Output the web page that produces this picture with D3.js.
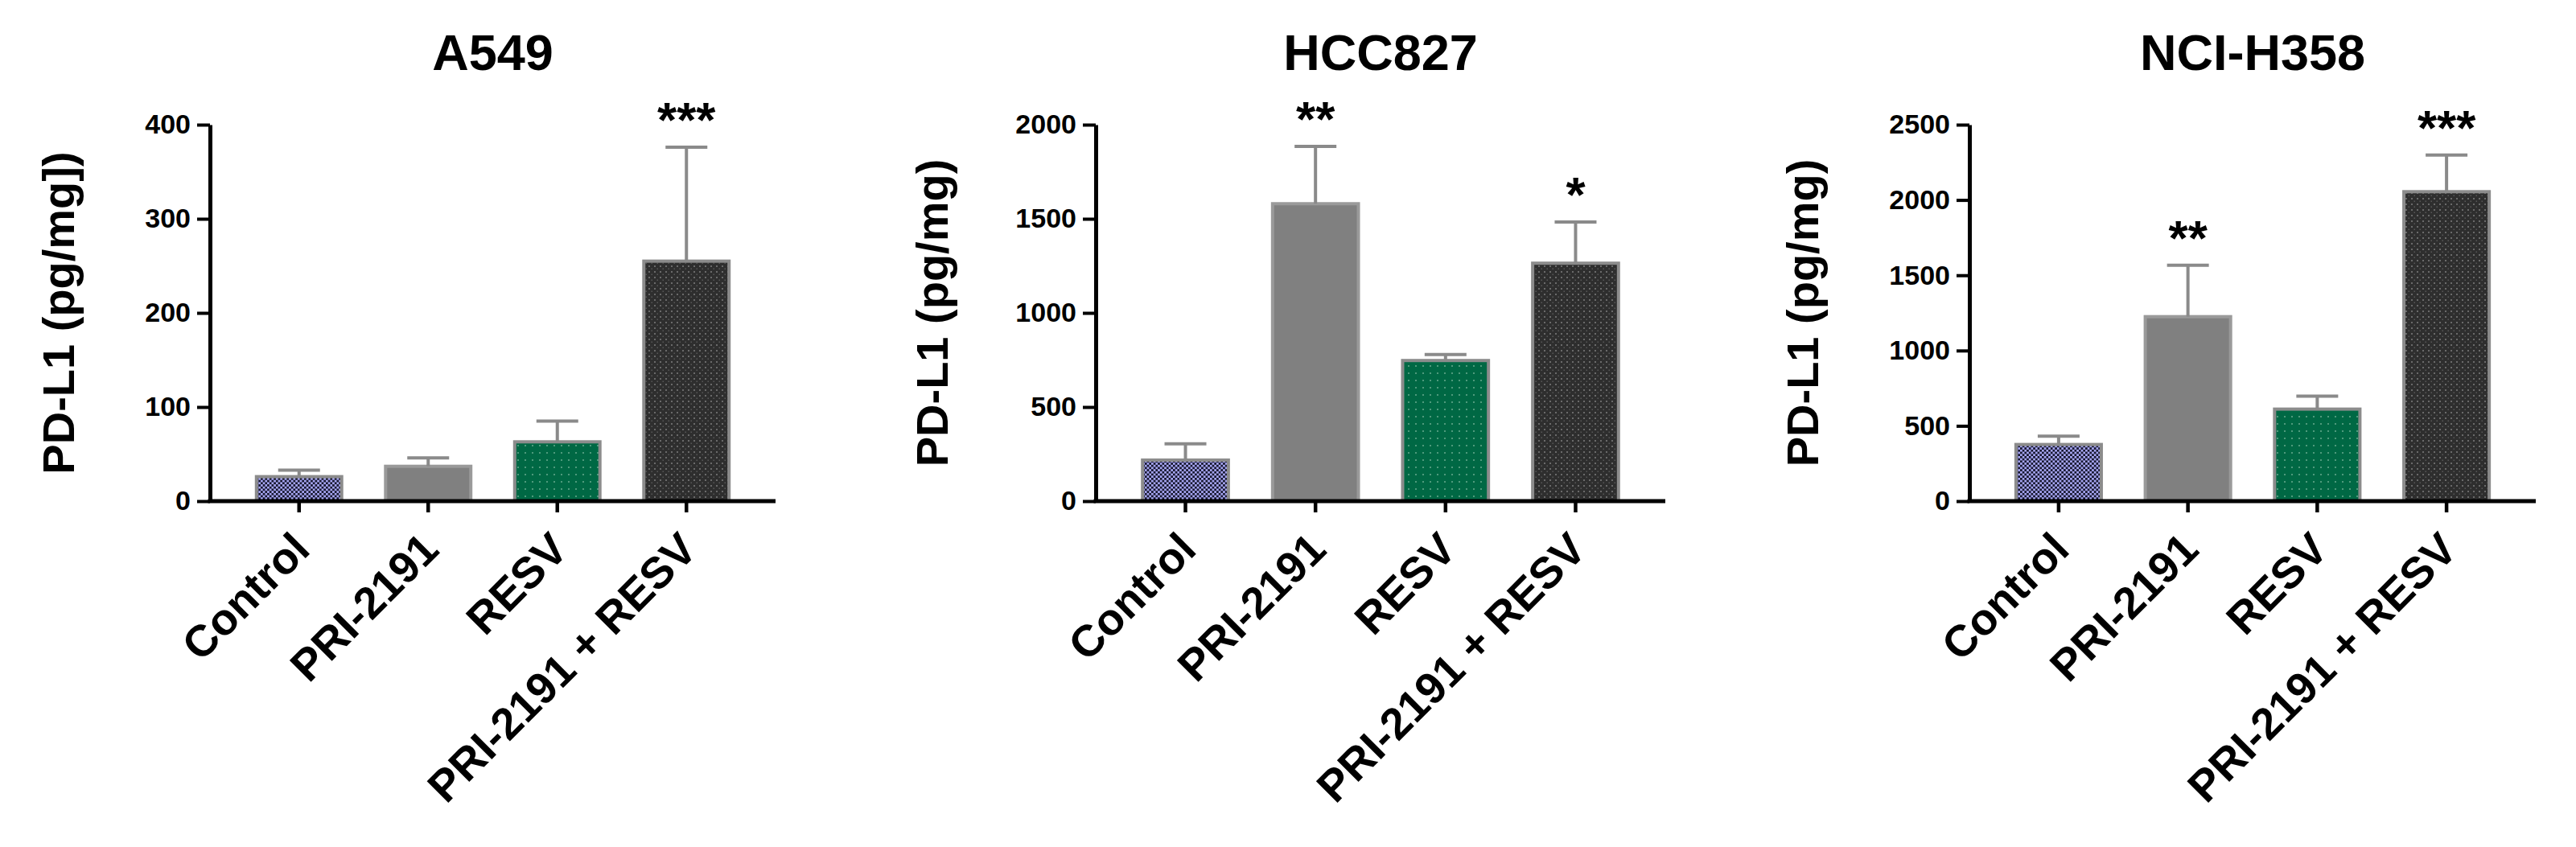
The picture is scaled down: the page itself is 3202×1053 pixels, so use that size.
<!DOCTYPE html>
<html>
<head>
<meta charset="utf-8">
<script src="https://cdn.jsdelivr.net/npm/d3@7"></script>
<style>
  body { margin: 0; background: #fff; }
  text { font-family: "Liberation Sans", Arial, sans-serif; }
</style>
</head>
<body>
<svg id="chart" width="3202" height="1053"></svg>
<script>
"use strict";

// x categories
var groups = ["Control", "PRI-2191", "RESV", "PRI-2191 + RESV"];
var cellLines = ["A549", "HCC827", "NCI-H358"];
var yTitles = ["PD-L1 (pg/mg])", "PD-L1 (pg/mg)", "PD-L1 (pg/mg)"];

// mean and SD (pg/mg)
var a549Mean = [26, 37, 63, 255];
var a549Sd = [7, 9, 22, 121];
var hcc827Mean = [218, 1580, 747, 1264];
var hcc827Sd = [87, 305, 32, 219];
var h358Mean = [376, 1225, 611, 2055];
var h358Sd = [55, 341, 86, 244];

// significance marks
var a549Stars = ["", "", "", "***"];
var hcc827Stars = ["", "**", "", "*"];
var h358Stars = ["", "**", "", "***"];

var yMax = [400, 2000, 2500];
var a549Ticks = [0, 100, 200, 300, 400];
var hcc827Ticks = [0, 500, 1000, 1500, 2000];
var h358Ticks = [0, 500, 1000, 1500, 2000, 2500];

var means = [a549Mean, hcc827Mean, h358Mean];
var sds = [a549Sd, hcc827Sd, h358Sd];
var stars = [a549Stars, hcc827Stars, h358Stars];
var ticks = [a549Ticks, hcc827Ticks, h358Ticks];

// layout
var panels = [
  {left: 261, right: 964, yTitleX: 92},
  {left: 1362, right: 2070, yTitleX: 1178},
  {left: 2448, right: 3152, yTitleX: 2260}
];
var plotTop = 155, plotBottom = 623;

var svg = d3.select("#chart");
svg.append("rect").attr("width", 3202).attr("height", 1053).attr("fill", "#fff");

//bar fill patterns
var defs = svg.append("defs");
var pControl = defs.append("pattern").attr("id", "pat0")
  .attr("patternUnits", "userSpaceOnUse").attr("width", 5.4).attr("height", 5.4);
pControl.append("rect").attr("width", 5.4).attr("height", 5.4).attr("fill", "#a6a6f2");
pControl.append("rect").attr("width", 2.7).attr("height", 2.7).attr("fill", "#17172e");
pControl.append("rect").attr("x", 2.7).attr("y", 2.7).attr("width", 2.7).attr("height", 2.7).attr("fill", "#17172e");

var pGreen = defs.append("pattern").attr("id", "pat2")
  .attr("patternUnits", "userSpaceOnUse").attr("width", 9).attr("height", 9);
pGreen.append("rect").attr("width", 9).attr("height", 9).attr("fill", "#006844");
pGreen.append("rect").attr("x", 4).attr("y", 4).attr("width", 2).attr("height", 2).attr("fill", "#4f9a7c");

var pDark = defs.append("pattern").attr("id", "pat3")
  .attr("patternUnits", "userSpaceOnUse").attr("width", 7).attr("height", 7);
pDark.append("rect").attr("width", 7).attr("height", 7).attr("fill", "#2e2e2e");
pDark.append("rect").attr("x", 1).attr("y", 1).attr("width", 2).attr("height", 2).attr("fill", "#6a6a6a");
pDark.append("rect").attr("x", 4.5).attr("y", 4.5).attr("width", 1.5).attr("height", 1.5).attr("fill", "#585858");

var fills = ["url(#pat0)", "#808080", "url(#pat2)", "url(#pat3)"];
var errColor = "#8a8a8a";

panels.forEach(function(p, i) {
  var x = d3.scaleBand()
    .domain(groups)
    .range([p.left, p.right])
    .paddingInner(0.34)
    .paddingOuter(0.36);

  var y = d3.scaleLinear()
    .domain([0, yMax[i]])
    .range([plotBottom, plotTop]);

  var g = svg.append("g").attr("class", "panel");

  var rows = groups.map(function(name, k) {
    return {name: name, mean: means[i][k], sd: sds[i][k], star: stars[i][k], k: k};
  });

  // bars
  g.selectAll("rect.bar")
    .data(rows)
    .enter()
    .append("rect")
    .attr("class", "bar")
    .attr("x", function(d) { return x(d.name); })
    .attr("width", x.bandwidth())
    .attr("y", function(d) { return y(d.mean); })
    .attr("height", function(d) { return plotBottom - y(d.mean); })
    .attr("fill", function(d) { return fills[d.k]; })
    .attr("stroke", function(d) { return d.k == 1 ? "#9a9a9a" : "#8c8c8c"; })
    .attr("stroke-width", 4);

  // error bars (upper only)
  var cx = function(d) { return x(d.name) + x.bandwidth() / 2; };
  g.selectAll("line.err")
    .data(rows)
    .enter()
    .append("line")
    .attr("class", "err")
    .attr("x1", cx).attr("x2", cx)
    .attr("y1", function(d) { return y(d.mean); })
    .attr("y2", function(d) { return y(d.mean + d.sd); })
    .attr("stroke", errColor)
    .attr("stroke-width", 4);

  g.selectAll("line.cap")
    .data(rows)
    .enter()
    .append("line")
    .attr("class", "cap")
    .attr("x1", function(d) { return cx(d) - 26; })
    .attr("x2", function(d) { return cx(d) + 26; })
    .attr("y1", function(d) { return y(d.mean + d.sd); })
    .attr("y2", function(d) { return y(d.mean + d.sd); })
    .attr("stroke", errColor)
    .attr("stroke-width", 4);

  // stars
  g.selectAll("text.star")
    .data(rows.filter(function(d) { return d.star; }))
    .enter()
    .append("text")
    .attr("class", "star")
    .attr("x", cx)
    .attr("y", function(d) { return y(d.mean + d.sd) - 13; })
    .attr("text-anchor", "middle")
    .attr("font-size", 62)
    .attr("font-weight", "bold")
    .attr("fill", "#000")
    .text(function(d) { return d.star; });

  // y axis
  var yAxis = g.append("g")
    .attr("transform", "translate(" + p.left + ",0)")
    .call(d3.axisLeft(y).tickValues(ticks[i]).tickFormat(d3.format("d"))
      .tickSize(16).tickSizeOuter(0).tickPadding(8));
  yAxis.select(".domain").attr("stroke", "#000").attr("stroke-width", 5);
  yAxis.selectAll(".tick line").attr("stroke", "#000").attr("stroke-width", 4);
  yAxis.selectAll(".tick text")
    .attr("font-size", 34)
    .attr("font-weight", "bold")
    .attr("font-family", "Liberation Sans, Arial, sans-serif")
    .attr("fill", "#000");

  // x axis
  var xAxis = g.append("g")
    .attr("transform", "translate(0," + plotBottom + ")")
    .call(d3.axisBottom(x).tickSize(14).tickSizeOuter(0));
  xAxis.select(".domain").attr("stroke", "#000").attr("stroke-width", 5)
    .attr("d", "M" + (p.left - 2.5) + ",0H" + p.right);
  xAxis.selectAll(".tick line").attr("stroke", "#000").attr("stroke-width", 4.5);
  xAxis.selectAll(".tick text")
    .attr("x", null).attr("y", null).attr("dy", null)
    .attr("transform", "translate(16,63) rotate(-45)")
    .attr("text-anchor", "end")
    .attr("font-size", 55)
    .attr("font-weight", "bold")
    .attr("font-family", "Liberation Sans, Arial, sans-serif")
    .attr("fill", "#000");

  // titles
  g.append("text")
    .attr("x", (p.left + p.right) / 2)
    .attr("y", 87)
    .attr("text-anchor", "middle")
    .attr("font-size", 63)
    .attr("font-weight", "bold")
    .text(cellLines[i]);

  g.append("text")
    .attr("transform", "translate(" + p.yTitleX + "," + (plotTop + plotBottom) / 2 + ") rotate(-90)")
    .attr("text-anchor", "middle")
    .attr("font-size", 56)
    .attr("font-weight", "bold")
    .text(yTitles[i]);
});
</script>
</body>
</html>
